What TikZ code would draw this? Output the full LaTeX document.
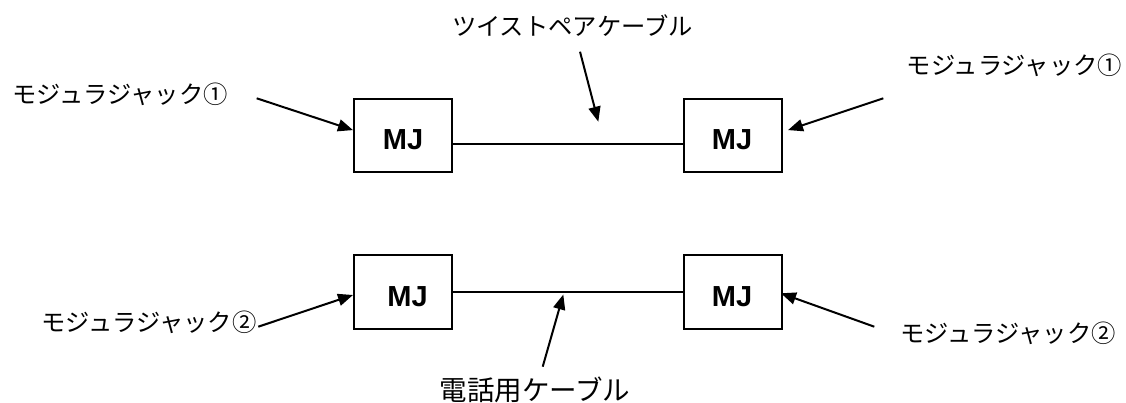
\documentclass[tikz,border=0pt]{standalone}
\usepackage{fontspec}
\setmainfont{Liberation Sans}
\newfontfamily\jpfont{Noto Sans CJK JP}
\usetikzlibrary{arrows.meta}
\begin{document}
\begin{tikzpicture}[x=1pt,y=-1pt,
  box/.style={draw, line width=2pt, minimum width=98pt, minimum height=73.5pt, inner sep=0pt},
  mj/.style={font=\fontsize{29}{29}\selectfont\bfseries, inner sep=0pt},
  jlabel/.style={font=\jpfont\fontsize{24.3}{24.3}\selectfont, inner sep=0pt},
  cable/.style={line width=1.8pt},
  pointer/.style={line width=2pt, -{Triangle[length=15pt,width=12pt]}},
]
\path[use as bounding box] (0,0) rectangle (1126,403);

% boxes
\node[box] (b1) at (403,135.4) {};
\node[box] (b2) at (732.5,135.4) {};
\node[box] (b3) at (403,292) {};
\node[box] (b4) at (732.5,292) {};

% MJ texts
\node[mj] (m1) at (403,139.7) {MJ};
\node[mj] (m2) at (732,139.7) {MJ};
\node[mj] (m3) at (407.5,296.3) {MJ};
\node[mj] (m4) at (732,296.3) {MJ};

% cables
\draw[cable] ([yshift=-8.6pt]b1.east) -- ([yshift=-8.6pt]b2.west);
\draw[cable] (b3.east) -- (b4.west);

% labels
\node[jlabel] (tp) at (572.5,25.5) {ツイストペアケーブル};
\node[jlabel] (l1) at (120,94.5) {モジュラジャック①};
\node[jlabel] (r1) at (1014.5,65.5) {モジュラジャック①};
\node[jlabel] (l2) at (148.8,322) {モジュラジャック②};
\node[jlabel] (r2) at (1008,333) {モジュラジャック②};
\node[jlabel, font=\jpfont\fontsize{27.5}{27.5}\selectfont] (tel) at (535,389.5) {電話用ケーブル};

% arrow end points
\coordinate (tl1) at (256.7,98.3);
\coordinate (tr1) at (883.3,98.3);
\coordinate (tl2) at (258.3,326.7);
\coordinate (tr2) at (874.3,326.7);
\coordinate (ttp) at (580,51.7);
\coordinate (htp) at (598.3,121.7);
\coordinate (ttel) at (542.7,366.7);
\coordinate (htel) at (563.3,294.5);

% arrows
\draw[pointer] (tl1) -- ([yshift=5.3pt]b1.west);
\draw[pointer] (tr1) -- ([xshift=5.5pt,yshift=5.3pt]b2.east);
\draw[pointer] (tl2) -- ([yshift=-3pt]b3.west);
\draw[pointer] (tr2) -- ([xshift=-1.5pt,yshift=-1.3pt]b4.east);
\draw[pointer] (ttp) -- (htp);
\draw[pointer] (ttel) -- (htel);
\end{tikzpicture}
\end{document}
